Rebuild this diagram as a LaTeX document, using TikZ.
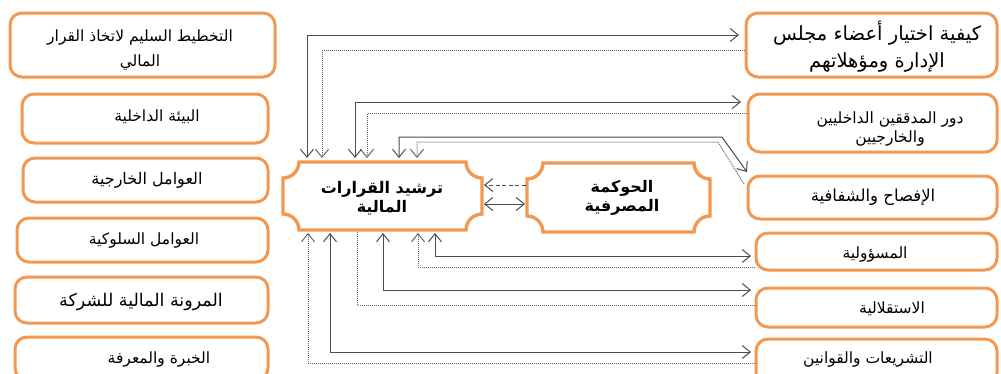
\documentclass[tikz,border=0pt]{standalone}
\usepackage{fontspec}
\newfontfamily\arabicfont[Script=Arabic]{DejaVu Sans}
\TeXXeTstate=1
\usetikzlibrary{arrows.meta,calc}
\definecolor{boxorange}{RGB}{241,152,82}
\definecolor{lineg}{RGB}{75,75,75}
\definecolor{dotg}{RGB}{100,100,100}

% concave-cornered (plaque) outline around a named node
\newcommand{\plaqueoutline}[2]{%
  \draw[plaqueline]
    ($(#1.north west)+(#2,0pt)$) -- ($(#1.north east)+(-#2,0pt)$)
    .. controls +(0pt,-0.55*#2) and +(-0.55*#2,0pt) .. ($(#1.north east)+(0pt,-#2)$)
    -- ($(#1.south east)+(0pt,#2)$)
    .. controls +(-0.55*#2,0pt) and +(0pt,0.55*#2) .. ($(#1.south east)+(-#2,0pt)$)
    -- ($(#1.south west)+(#2,0pt)$)
    .. controls +(0pt,0.55*#2) and +(0.55*#2,0pt) .. ($(#1.south west)+(0pt,#2)$)
    -- ($(#1.north west)+(0pt,-#2)$)
    .. controls +(0.55*#2,0pt) and +(0pt,-0.55*#2) .. cycle;}

\begin{document}
\begin{tikzpicture}[x=1pt,y=-1pt,
  sidebox/.style={draw=boxorange,line width=3pt,rounded corners=12pt,inner sep=0pt,outer sep=0pt},
  core/.style={inner sep=0pt,outer sep=0pt},
  plaqueline/.style={draw=boxorange,line width=3.4pt},
  lbl/.style={font=\arabicfont\fontsize{#1}{25}\selectfont,align=center,inner sep=0pt},
  lbl/.default=15.5,
  corelbl/.style={font=\arabicfont\bfseries\fontsize{16}{19}\selectfont,align=center,inner sep=0pt},
  >={Straight Barb[length=8pt,width=13pt]},
  sline/.style={draw=lineg,line width=1pt},
  dline/.style={draw=dotg,line width=1pt,dash pattern=on 1pt off 1pt},
  dashline/.style={draw=lineg,line width=1pt,dash pattern=on 4pt off 2.5pt},
]
\path[use as bounding box] (0,0) rectangle (1001,373);
\clip (0,0) rectangle (1001,373);

% left column
\node[sidebox,minimum width=265pt,minimum height=64pt] (L1) at (142.5,45) {};
\node[sidebox,minimum width=246pt,minimum height=49pt] (L2) at (145,118.5) {};
\node[sidebox,minimum width=245pt,minimum height=44pt] (L3) at (145.5,180) {};
\node[sidebox,minimum width=251pt,minimum height=44pt] (L4) at (142.5,240) {};
\node[sidebox,minimum width=253pt,minimum height=46pt] (L5) at (141.5,300) {};
\node[sidebox,minimum width=253pt,minimum height=43pt] (L6) at (141.5,358.5) {};

\node[lbl] (L1t) at (140,50) {\beginR التخطيط السليم لاتخاذ القرار\endR\\\beginR المالي\endR};
\node[lbl] (L2t) at (157,117) {\beginR البيئة الداخلية\endR};
\node[lbl=16] (L3t) at (147,180) {\beginR العوامل الخارجية\endR};
\node[lbl] (L4t) at (144,240) {\beginR العوامل السلوكية\endR};
\node[lbl=17.5] (L5t) at (141,302) {\beginR المرونة المالية للشركة\endR};
\node[lbl] (L6t) at (159,359) {\beginR الخبرة والمعرفة\endR};

% right column
\node[sidebox,minimum width=251pt,minimum height=64pt] (R1) at (871.5,45) {};
\node[sidebox,minimum width=249pt,minimum height=58pt] (R2) at (872.5,123) {};
\node[sidebox,minimum width=249pt,minimum height=43pt] (R3) at (872.5,197.5) {};
\node[sidebox,minimum width=241pt,minimum height=37pt] (R4) at (876.5,251.5) {};
\node[sidebox,minimum width=241pt,minimum height=39pt] (R5) at (876.5,307.5) {};
\node[sidebox,minimum width=241pt,minimum height=46pt] (R6) at (876.5,362) {};

\node[lbl=19.5,font=\arabicfont\fontsize{19.5}{27}\selectfont] (R1t) at (877,47) {\beginR كيفية اختيار أعضاء مجلس\endR\\\beginR الإدارة ومؤهلاتهم\endR};
\node[lbl,font=\arabicfont\fontsize{15.5}{19}\selectfont] (R2t) at (890,129) {\beginR دور المدققين الداخليين\endR\\\beginR والخارجيين\endR};
\node[lbl=16.5] (R3t) at (873,197) {\beginR الإفصاح والشفافية\endR};
\node[lbl] (R4t) at (875,254) {\beginR المسؤولية\endR};
\node[lbl] (R5t) at (892,309) {\beginR الاستقلالية\endR};
\node[lbl] (R6t) at (868,359) {\beginR التشريعات والقوانين\endR};

% central pair
\node[core,minimum width=199pt,minimum height=68pt] (C) at (382.5,196) {};
\node[core,minimum width=183pt,minimum height=69pt] (G) at (618.5,197.5) {};
\plaqueoutline{C}{16pt}
\plaqueoutline{G}{16pt}
\node[corelbl] (Ct) at (382,198) {\beginR ترشيد القرارات\endR\\\beginR المالية\endR};
\node[corelbl] (Gt) at (622,198) {\beginR الحوكمة\endR\\\beginR المصرفية\endR};

\draw[dashline,->,shorten <=1.5pt,shorten >=2pt] (G.west |- 0,185) -- (C.east |- 0,185);
\draw[sline,<->,shorten <=2pt,shorten >=2pt] (G.west |- 0,204) -- (C.east |- 0,204);

% links from the top-right boxes
\draw[sline,<->,shorten <=7pt,shorten >=4pt] (R1.west |- 0,35) -| (307,0 |- C.north);
\draw[dline,->,shorten <=1.5pt,shorten >=4pt] (R1.west |- 0,50) -| (322,0 |- C.north);
\draw[sline,<->,shorten <=7pt,shorten >=4pt] (R2.west |- 0,102) -| (355,0 |- C.north);
\draw[dline,->,shorten <=1.5pt,shorten >=4pt] (R2.west |- 0,113) -| (367,0 |- C.north);

\coordinate (r3in) at ([shift={(-1pt,4pt)}]R3.north west);
\coordinate (r3dot) at ([shift={(-4pt,-8pt)}]R3.north west);
\draw[sline,<->,shorten >=4pt] (r3in) -- (722,137) -| (399,0 |- C.north);
\draw[dline,->,shorten >=4pt] (r3dot) -- (718,142) -| (417,0 |- C.north);

% links from the bottom-right boxes
\draw[sline,<->,shorten <=5pt,shorten >=3pt] (R4.west |- 0,256) -| (435,0 |- C.south);
\draw[dline,->,shorten <=1.5pt,shorten >=3pt] (R4.west |- 0,267) -| (418,0 |- C.south);
\draw[sline,<->,shorten <=5pt,shorten >=3pt] (R5.west |- 0,290) -| (383,0 |- C.south);
\draw[dline,shorten <=1.5pt,shorten >=1.5pt] (R5.west |- 0,305) -| (357,0 |- C.south);
\draw[sline,<->,shorten <=5pt,shorten >=3pt] (R6.west |- 0,352) -| (330,0 |- C.south);
\draw[dline,->,shorten <=1.5pt,shorten >=3pt] (R6.west |- 0,363) -| (308,0 |- C.south);
\end{tikzpicture}
\end{document}
